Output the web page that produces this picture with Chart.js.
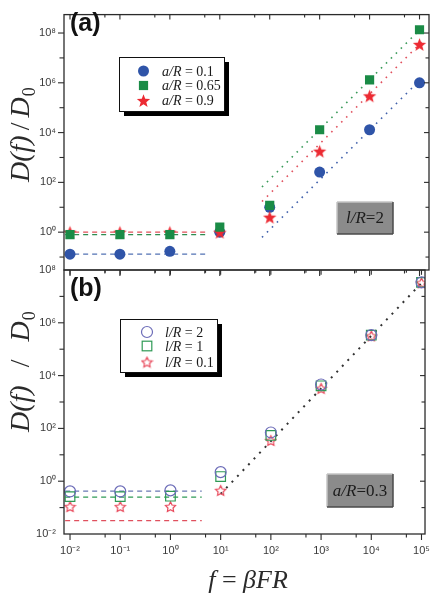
<!DOCTYPE html>
<html><head><meta charset="utf-8">
<script src="https://cdn.jsdelivr.net/npm/chart.js@4.4.1/dist/chart.umd.min.js"></script>
<style>
html,body{margin:0;padding:0;background:#fff;}
body{width:440px;height:601px;position:relative;overflow:hidden;}
canvas{position:absolute;left:0;}
#ca{top:0;} #cb{top:255px;}
</style></head><body>
<canvas id="ca" width="440" height="285"></canvas>
<canvas id="cb" width="440" height="346"></canvas>
<script>
// ---------------- data ----------------
const fValues = [0.01, 0.1, 1, 10, 100, 1000, 10000, 100000];
// panel (a): l/R = 2
const aR01  = [0.13, 0.13, 0.17, 1.0, 10, 260, 1.3e4, 1.0e6];      // a/R = 0.1
const aR065 = [0.79, 0.79, 0.79, 1.6, 12, 1.3e4, 1.3e6, 1.35e8];    // a/R = 0.65
const aR09  = [1.0, 1.0, 1.0, 1.0, 4.0, 1.8e3, 3.0e5, 3.5e7];       // a/R = 0.9
const plateauX = [0.008, 5.5];
const aR01Plateau  = [0.13, 0.13];
const aR065Plateau = [0.79, 0.79];
const aR09Plateau  = [1.0, 1.0];
const aFitX = [70, 110000];
const aR01Fit  = [0.62, 1.5e6];
const aR065Fit = [65, 1.6e8];
const aR09Fit  = [17, 4.3e7];
// panel (b): a/R = 0.3
const bL2  = [0.41, 0.41, 0.45, 2.2, 70, 4600, 3.4e5, 3.4e7];       // l/R = 2
const bL1  = [0.26, 0.26, 0.27, 1.5, 54, 4100, 3.4e5, 3.4e7];       // l/R = 1
const bL01 = [0.11, 0.11, 0.11, 0.45, 35, 3300, 3.2e5, 3.3e7];      // l/R = 0.1
const bPlateauX = [0.008, 4.2];
const bL2Plateau  = [0.42, 0.42];
const bL1Plateau  = [0.25, 0.25];
const bL01Plateau = [0.032, 0.032];
const bFitX = [10, 100000];
const bFit  = [0.33, 3.2e7];
// ticks (exponents of ten)
const xTickExp  = [-2, -1, 0, 1, 2, 3, 4, 5];
const aYTickExp = [0, 2, 4, 6, 8];
const bYTickExp = [-2, 0, 2, 4, 6, 8];
const legendA = ['0.1', '0.65', '0.9'];
const legendB = ['2', '1', '0.1'];

// ---------------- helpers ----------------
const SUP = {'-':'⁻','0':'⁰','1':'¹','2':'²','3':'³','4':'⁴','5':'⁵','6':'⁶','7':'⁷','8':'⁸','9':'⁹'};
const powLabel = e => '10' + String(e).split('').map(c => SUP[c]).join('');
const pts = (xs, ys) => xs.map((x, i) => ({x: x, y: ys[i]}));
const SERIF = '"Liberation Serif","Times New Roman",serif';
const SANS = '"Liberation Sans",Arial,sans-serif';

const C = {
  blue: '#2f54a8', green: '#1a8b46', red: '#ec2a32',
  bBlue: '#6c6cb8', bGreen: '#2f9a55', bRed: '#e8485a'
};

function starImage(size, fill, stroke, lw, ratio) {
  const c = document.createElement('canvas');
  c.width = size; c.height = size;
  const g = c.getContext('2d');
  const cx = size / 2, cy = size / 2 + size * 0.05, R = size / 2 - (lw || 0.5), r = R * ratio;
  g.beginPath();
  for (let i = 0; i < 10; i++) {
    const ang = -Math.PI / 2 + i * Math.PI / 5;
    const rad = i % 2 ? r : R;
    g.lineTo(cx + rad * Math.cos(ang), cy + rad * Math.sin(ang));
  }
  g.closePath();
  if (fill) { g.fillStyle = fill; g.fill(); }
  if (stroke) { g.strokeStyle = stroke; g.lineWidth = lw; g.stroke(); }
  return c;
}
const starA = starImage(15, C.red, null, 0.5, 0.42);
const starB = starImage(13, null, C.bRed, 1.2, 0.5);

function seg(ctx, x1, y1, x2, y2) { ctx.beginPath(); ctx.moveTo(x1, y1); ctx.lineTo(x2, y2); ctx.stroke(); }

function drawFrame(chart, majorY) {
  const ctx = chart.ctx, a = chart.chartArea, xs = chart.scales.x, ys = chart.scales.y;
  ctx.save();
  ctx.strokeStyle = '#2b2b2b';
  ctx.lineWidth = 1.3;
  ctx.strokeRect(a.left, a.top, a.right - a.left, a.bottom - a.top);
  ctx.lineWidth = 1.1;
  for (let e = -3; e <= 6; e++) {
    for (const [m, len] of [[1, 6], [5, 3.5]]) {
      const px = xs.getPixelForValue(m * Math.pow(10, e));
      if (px < a.left + 1 || px > a.right - 1) continue;
      seg(ctx, px, a.bottom, px, a.bottom + len);
      seg(ctx, px, a.top, px, a.top + len * 0.8);
    }
  }
  for (let e = -3; e <= 9; e++) {
    const py = ys.getPixelForValue(Math.pow(10, e));
    if (py < a.top + 1 || py > a.bottom - 1) continue;
    const major = majorY.includes(e);
    seg(ctx, a.left - (major ? 6 : 4.5), py, a.left, py);
    seg(ctx, a.right - (major ? 5 : 3.5), py, a.right, py);
  }
  ctx.restore();
}

function drawYTitle(ctx, cx, yStart, gap) {
  ctx.save();
  ctx.translate(cx, yStart);
  ctx.rotate(-Math.PI / 2);
  ctx.fillStyle = '#2a2a2a';
  ctx.textAlign = 'left'; ctx.textBaseline = 'alphabetic';
  let x = 0;
  ctx.font = 'italic 28px ' + SERIF; ctx.fillText('D(f)', x, 0); x += ctx.measureText('D(f)').width + gap;
  ctx.font = '28px ' + SERIF; ctx.fillText('/', x, 0); x += ctx.measureText('/').width + gap;
  ctx.font = 'italic 28px ' + SERIF; ctx.fillText('D', x, 0); x += ctx.measureText('D').width + 1;
  ctx.font = '18px ' + SERIF; ctx.fillText('0', x, 6);
  ctx.restore();
}

function drawPanelLabel(ctx, txt, x, y) {
  ctx.save();
  ctx.font = 'bold 25px ' + SANS; ctx.fillStyle = '#111';
  ctx.textAlign = 'left'; ctx.textBaseline = 'alphabetic';
  ctx.fillText(txt, x, y);
  ctx.restore();
}

function drawMixed(ctx, parts, x, y, size) {
  // parts: [[text, italic], ...]
  for (const [t, it] of parts) {
    ctx.font = (it ? 'italic ' : '') + size + 'px ' + SERIF;
    ctx.fillText(t, x, y);
    x += ctx.measureText(t).width;
  }
  return x;
}
function mixedWidth(ctx, parts, size) {
  let w = 0;
  for (const [t, it] of parts) { ctx.font = (it ? 'italic ' : '') + size + 'px ' + SERIF; w += ctx.measureText(t).width; }
  return w;
}

function drawLegendBox(ctx, x, y, w, h) {
  ctx.save();
  ctx.fillStyle = '#000';
  ctx.fillRect(x + 5, y + 5, w, h);
  ctx.fillStyle = '#fff';
  ctx.fillRect(x, y, w, h);
  ctx.strokeStyle = '#111'; ctx.lineWidth = 1;
  ctx.strokeRect(x + 0.5, y + 0.5, w, h);
  ctx.restore();
}

function drawBevelBox(ctx, x, y, w, h, parts, size) {
  ctx.save();
  ctx.fillStyle = '#8b8b8b';
  ctx.fillRect(x, y, w, h);
  ctx.lineWidth = 1.5;
  ctx.strokeStyle = '#c4c4c4';
  seg(ctx, x, y + h, x, y); seg(ctx, x, y, x + w, y);
  ctx.strokeStyle = '#4a4a4a';
  seg(ctx, x + w, y, x + w, y + h); seg(ctx, x + w, y + h, x, y + h);
  ctx.fillStyle = '#1c1c1c';
  ctx.textAlign = 'left'; ctx.textBaseline = 'middle';
  const tw = mixedWidth(ctx, parts, size);
  drawMixed(ctx, parts, x + (w - tw) / 2, y + h / 2 + 1, size);
  ctx.restore();
}

function marker(ctx, kind, x, y) {
  ctx.save();
  if (kind === 'circA') { ctx.fillStyle = C.blue; ctx.beginPath(); ctx.arc(x, y, 5.5, 0, 2 * Math.PI); ctx.fill(); }
  if (kind === 'sqA') { ctx.fillStyle = C.green; ctx.fillRect(x - 4.6, y - 4.6, 9.2, 9.2); }
  if (kind === 'starA') { ctx.drawImage(starA, x - starA.width / 2, y - starA.height / 2); }
  if (kind === 'circB') { ctx.strokeStyle = C.bBlue; ctx.lineWidth = 1.2; ctx.beginPath(); ctx.arc(x, y, 5.5, 0, 2 * Math.PI); ctx.stroke(); }
  if (kind === 'sqB') { ctx.strokeStyle = C.bGreen; ctx.lineWidth = 1.2; ctx.strokeRect(x - 4.8, y - 4.8, 9.6, 9.6); }
  if (kind === 'starB') { ctx.drawImage(starB, x - starB.width / 2, y - starB.height / 2); }
  ctx.restore();
}

function baseScales(xMin, xMax, yMin, yMax, yExp, xHeight, showX) {
  return {
    x: {
      type: 'logarithmic', min: xMin, max: xMax, bounds: 'data',
      afterBuildTicks: s => { s.ticks = xTickExp.map(e => ({value: Math.pow(10, e)})); },
      afterFit: s => { s.height = xHeight; },
      ticks: {
        display: showX, autoSkip: false, maxRotation: 0, padding: 10,
        font: {family: SANS, size: 11}, color: '#3a3a3a',
        callback: v => powLabel(Math.round(Math.log10(v)))
      },
      grid: {display: false, drawTicks: false}, border: {display: false}
    },
    y: {
      type: 'logarithmic', min: yMin, max: yMax, bounds: 'data',
      afterBuildTicks: s => { s.ticks = yExp.map(e => ({value: Math.pow(10, e)})); },
      afterFit: s => { s.width = 64; },
      ticks: {
        autoSkip: false, padding: 8,
        font: {family: SANS, size: 11}, color: '#3a3a3a',
        callback: v => powLabel(Math.round(Math.log10(v)))
      },
      grid: {display: false, drawTicks: false}, border: {display: false}
    }
  };
}

function lineDs(xs, ys, color, dash, width) {
  return {data: pts(xs, ys), showLine: true, pointRadius: 0, borderColor: color, borderWidth: width,
    borderDash: dash, fill: false, tension: 0, borderCapStyle: 'butt'};
}

// ---------------- panel (a) ----------------
new Chart(document.getElementById('ca'), {
  type: 'scatter',
  data: {datasets: [
    {data: pts(fValues, aR065), pointStyle: 'rect', pointRadius: 6.5, backgroundColor: C.green, borderColor: C.green, borderWidth: 0},
    {data: pts(fValues, aR09), pointStyle: starA, pointRadius: 7},
    {data: pts(fValues, aR01), pointStyle: 'circle', pointRadius: 5.5, backgroundColor: C.blue, borderColor: C.blue, borderWidth: 0},
    lineDs(plateauX, aR09Plateau, '#e0505a', [5, 4], 1.3),
    lineDs(plateauX, aR065Plateau, '#2f8c50', [5, 4], 1.3),
    lineDs(plateauX, aR01Plateau, '#5272b4', [5, 4], 1.3),
    lineDs(aFitX, aR065Fit, '#3a9a5a', [1.6, 5.4], 1.6),
    lineDs(aFitX, aR09Fit, '#e0505e', [1.6, 5.4], 1.6),
    lineDs(aFitX, aR01Fit, '#4262ac', [1.6, 5.4], 1.6)
  ]},
  options: {
    responsive: false, animation: false, devicePixelRatio: 1,
    layout: {padding: {left: 0, top: 5, right: 11, bottom: 0}},
    plugins: {legend: {display: false}, tooltip: {enabled: false}},
    scales: baseScales(Math.pow(10, -2.12), Math.pow(10, 5.19), Math.pow(10, -1.52), Math.pow(10, 8.74), aYTickExp, 15, false)
  },
  plugins: [{
    id: 'decoA',
    afterDraw(chart) {
      const ctx = chart.ctx;
      drawFrame(chart, aYTickExp);
      drawYTitle(ctx, 29, 182, 5);
      drawPanelLabel(ctx, '(a)', 70, 31);
      drawLegendBox(ctx, 119, 57, 105, 54);
      ctx.save(); ctx.fillStyle = '#1a1a1a'; ctx.textAlign = 'left'; ctx.textBaseline = 'middle';
      const kinds = ['circA', 'sqA', 'starA'], ys = [71, 85.5, 100.5];
      kinds.forEach((k, i) => {
        marker(ctx, k, 143.5, ys[i]);
        drawMixed(ctx, [['a/R', true], [' = ' + legendA[i], false]], 162, ys[i] + 1, 14);
      });
      ctx.restore();
      drawBevelBox(ctx, 337, 202, 56, 32, [['l/R', true], ['=2', false]], 17);
    }
  }]
});

// ---------------- panel (b) ----------------
new Chart(document.getElementById('cb'), {
  type: 'scatter',
  data: {datasets: [
    {data: pts(fValues, bL2), pointStyle: 'circle', pointRadius: 5.5, backgroundColor: 'rgba(0,0,0,0)', borderColor: C.bBlue, borderWidth: 1.2},
    {data: pts(fValues, bL1), pointStyle: 'rect', pointRadius: 6.8, backgroundColor: 'rgba(0,0,0,0)', borderColor: C.bGreen, borderWidth: 1.2},
    {data: pts(fValues, bL01), pointStyle: starB, pointRadius: 6.5},
    lineDs(bPlateauX, bL2Plateau, '#6878b4', [5, 4], 1.3),
    lineDs(bPlateauX, bL1Plateau, '#2f9a55', [5, 4], 1.3),
    lineDs(bPlateauX, bL01Plateau, '#e0505e', [5, 4], 1.3),
    lineDs(bFitX, bFit, '#333333', [2, 6], 2)
  ]},
  options: {
    responsive: false, animation: false, devicePixelRatio: 1,
    layout: {padding: {left: 0, top: 15, right: 11, bottom: 0}},
    plugins: {legend: {display: false}, tooltip: {enabled: false}},
    scales: baseScales(Math.pow(10, -2.12), Math.pow(10, 5.07), 0.01, 1e8, bYTickExp, 67, true)
  },
  plugins: [{
    id: 'decoB',
    afterDraw(chart) {
      const ctx = chart.ctx;
      drawFrame(chart, bYTickExp);
      drawYTitle(ctx, 29, 432 - 255, 18);
      drawPanelLabel(ctx, '(b)', 70, 296 - 255);
      drawLegendBox(ctx, 120, 319 - 255, 97, 53);
      ctx.save(); ctx.fillStyle = '#1a1a1a'; ctx.textAlign = 'left'; ctx.textBaseline = 'middle';
      const kinds = ['circB', 'sqB', 'starB'], ys = [332 - 255, 346 - 255, 362 - 255];
      kinds.forEach((k, i) => {
        marker(ctx, k, 147, ys[i]);
        drawMixed(ctx, [['l/R', true], [' = ' + legendB[i], false]], 165, ys[i] + 1, 14);
      });
      ctx.restore();
      drawBevelBox(ctx, 327, 474 - 255, 66, 33, [['a/R', true], ['=0.3', false]], 17);
      // x-axis title
      ctx.save(); ctx.fillStyle = '#2a2a2a'; ctx.textAlign = 'left'; ctx.textBaseline = 'alphabetic';
      const parts = [['f', true], [' = ', false], ['βFR', true]];
      const w = mixedWidth(ctx, parts, 26);
      drawMixed(ctx, parts, 248 - w / 2, 588 - 255, 26);
      ctx.restore();
    }
  }]
});
</script>
</body></html>
